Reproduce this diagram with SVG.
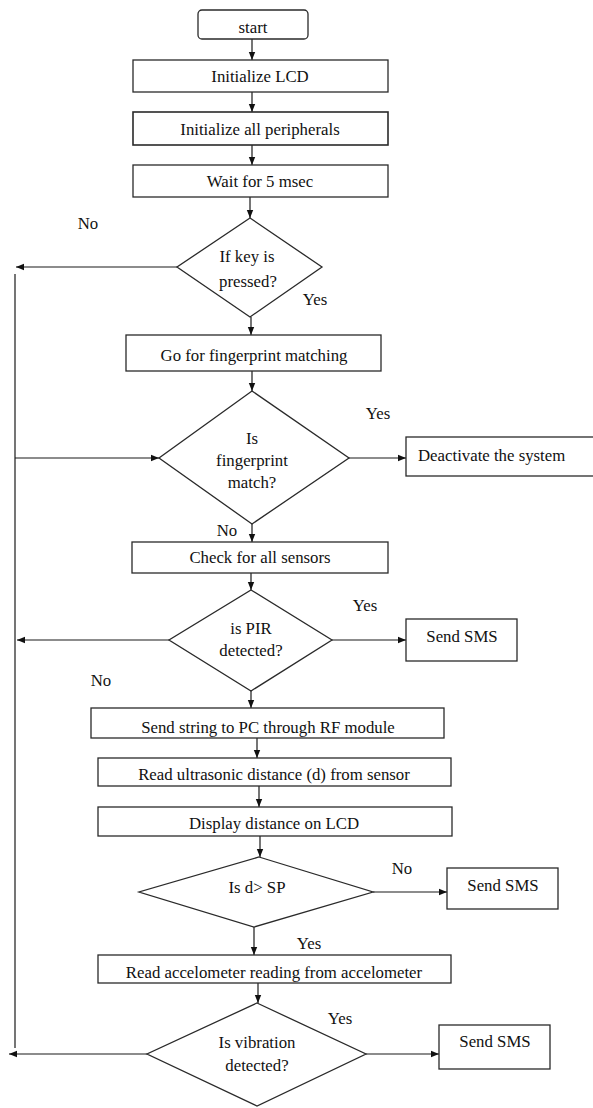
<svg xmlns="http://www.w3.org/2000/svg" width="593" height="1108" viewBox="0 0 593 1108">
<style>
.box{fill:#fff;stroke:#2a2a2a;stroke-width:1.3}
.t{font-family:'Liberation Serif','Tinos','DejaVu Serif',serif;font-size:16.8px;fill:#111;text-anchor:middle}
.s{text-anchor:start}
.ln{fill:none;stroke:#1a1a1a;stroke-width:1.2}
</style>
<defs>
<marker id="ah" viewBox="0 0 10 10" refX="10" refY="5" markerWidth="8" markerHeight="8" markerUnits="userSpaceOnUse" orient="auto">
<path d="M0,1 L10,5 L0,9 z" fill="#111"/>
</marker>
</defs>
<rect width="593" height="1108" fill="#fff"/>
<g id="connectors">
<path class="ln" d="M252,39 V60" marker-end="url(#ah)"/>
<path class="ln" d="M252,92 V112" marker-end="url(#ah)"/>
<path class="ln" d="M252,145 V165" marker-end="url(#ah)"/>
<path class="ln" d="M250,197 V218" marker-end="url(#ah)"/>
<path class="ln" d="M177,267 H16" marker-end="url(#ah)"/>
<path class="ln" d="M15,274 V1048"/>
<path class="ln" d="M251,317 V335" marker-end="url(#ah)"/>
<path class="ln" d="M252,371 V391" marker-end="url(#ah)"/>
<path class="ln" d="M15,458 H159" marker-end="url(#ah)"/>
<path class="ln" d="M349,458 H406" marker-end="url(#ah)"/>
<path class="ln" d="M252,524 V542" marker-end="url(#ah)"/>
<path class="ln" d="M251,573 V590" marker-end="url(#ah)"/>
<path class="ln" d="M169,640 H17" marker-end="url(#ah)"/>
<path class="ln" d="M332,640 H406" marker-end="url(#ah)"/>
<path class="ln" d="M251,691 V708" marker-end="url(#ah)"/>
<path class="ln" d="M257,738 V758" marker-end="url(#ah)"/>
<path class="ln" d="M259,786 V807" marker-end="url(#ah)"/>
<path class="ln" d="M260,836 V857" marker-end="url(#ah)"/>
<path class="ln" d="M373,892 H447" marker-end="url(#ah)"/>
<path class="ln" d="M254,927 V955" marker-end="url(#ah)"/>
<path class="ln" d="M258,983 V1003" marker-end="url(#ah)"/>
<path class="ln" d="M147,1054 H9" marker-end="url(#ah)"/>
<path class="ln" d="M366,1054 H439" marker-end="url(#ah)"/>
</g>
<g id="start"><rect class="box" x="198" y="10" width="110" height="29" rx="4"/><text class="t" x="253" y="33">start</text></g>
<g id="init-lcd"><rect class="box" x="133" y="60" width="255" height="32"/><text class="t" x="260" y="82">Initialize LCD</text></g>
<g id="init-periph"><rect class="box" x="133" y="112" width="255" height="33" style="stroke-width:1.6"/><text class="t" x="260" y="135">Initialize all peripherals</text></g>
<g id="wait"><rect class="box" x="133" y="165" width="255" height="32"/><text class="t" x="260" y="187">Wait for 5 msec</text></g>
<g id="key-pressed"><polygon class="box" points="250,218 322,267 250,317 177,267"/><text class="t" x="247" y="262">If key is</text><text class="t" x="248" y="287">pressed?</text></g>
<g id="labels-1"><text class="t" x="88" y="229">No</text><text class="t" x="315" y="305">Yes</text></g>
<g id="fingerprint-go"><rect class="box" x="126" y="335" width="255" height="36"/><text class="t" x="254" y="361">Go for fingerprint matching</text></g>
<g id="fp-match"><polygon class="box" points="252,391 349,458 252,524 159,458"/><text class="t" x="252" y="444">Is</text><text class="t" x="252" y="466">fingerprint</text><text class="t" x="252" y="488">match?</text></g>
<g id="labels-2"><text class="t" x="378" y="419">Yes</text><text class="t" x="227" y="536">No</text></g>
<g id="deactivate"><rect class="box" x="406" y="437" width="192" height="39"/><text class="t s" x="418" y="461">Deactivate the system</text></g>
<g id="check-sensors"><rect class="box" x="132" y="542" width="256" height="31"/><text class="t" x="260" y="563">Check for all sensors</text></g>
<g id="pir"><polygon class="box" points="251,590 332,640 251,691 169,640"/><text class="t" x="251" y="634">is PIR</text><text class="t" x="251" y="656">detected?</text></g>
<g id="labels-3"><text class="t" x="365" y="611">Yes</text><text class="t" x="101" y="686">No</text></g>
<g id="sms-1"><rect class="box" x="406" y="619" width="111" height="42"/><text class="t" x="462" y="642">Send SMS</text></g>
<g id="send-string"><rect class="box" x="91" y="708" width="353" height="30"/><text class="t" x="268" y="733">Send string to PC through RF module</text></g>
<g id="read-ultra"><rect class="box" x="98" y="758" width="353" height="28"/><text class="t" x="274" y="780">Read ultrasonic distance (d) from sensor</text></g>
<g id="display"><rect class="box" x="98" y="807" width="354" height="29"/><text class="t" x="274" y="829">Display distance on LCD</text></g>
<g id="d-sp"><polygon class="box" points="259,857 373,892 254,927 139,892"/><text class="t" x="257" y="893">Is d&gt; SP</text></g>
<g id="labels-4"><text class="t" x="402" y="874">No</text><text class="t" x="309" y="949">Yes</text></g>
<g id="sms-2"><rect class="box" x="447" y="868" width="111" height="41"/><text class="t" x="503" y="891">Send SMS</text></g>
<g id="read-accel"><rect class="box" x="98" y="955" width="353" height="28"/><text class="t" x="274" y="978">Read accelometer reading from accelometer</text></g>
<g id="vibration"><polygon class="box" points="257,1003 366,1054 257,1106 147,1054"/><text class="t" x="257" y="1048">Is vibration</text><text class="t" x="257" y="1071">detected?</text></g>
<g id="labels-5"><text class="t" x="340" y="1024">Yes</text></g>
<g id="sms-3"><rect class="box" x="439" y="1025" width="111" height="44"/><text class="t" x="495" y="1047">Send SMS</text></g>
</svg>
